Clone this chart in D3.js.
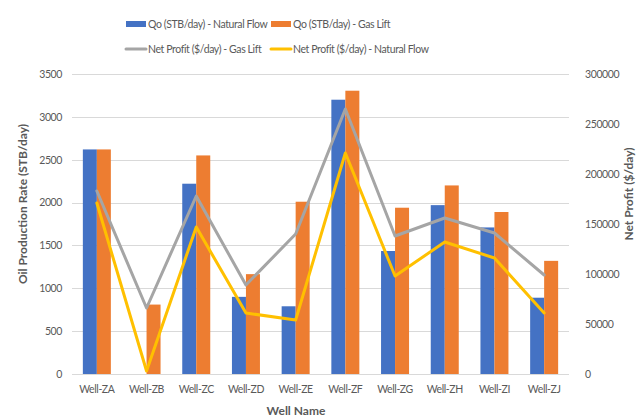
<!DOCTYPE html>
<html>
<head>
<meta charset="utf-8">
<script src="https://cdn.jsdelivr.net/npm/d3@7/dist/d3.min.js"></script>
<style>
  html, body { margin: 0; padding: 0; background: #fff; }
  svg { display: block; font-family: "Lato", sans-serif; }
  .lbl { font-size: 10.5px; letter-spacing: -0.4px; }
</style>
</head>
<body>
<svg id="chart" width="637" height="418"></svg>
<script>
// Well names along the category axis
const wells = ["Well-ZA", "Well-ZB", "Well-ZC", "Well-ZD", "Well-ZE", "Well-ZF", "Well-ZG", "Well-ZH", "Well-ZI", "Well-ZJ"];

// Oil production rate, STB/day
const qoNatural = [2620, 0, 2220, 900, 790, 3200, 1435, 1970, 1710, 890];
const qoGasLift = [2620, 810, 2550, 1165, 2010, 3305, 1940, 2200, 1890, 1320];

// Net profit, $/day
const profitGasLift = [183000, 66000, 178000, 89000, 140000, 265000, 138000, 156000, 141000, 99000];
const profitNatural = [171000, 3000, 147000, 61000, 54000, 221000, 98000, 132000, 116000, 61000];

// Axis ticks
const leftTicks = [0, 500, 1000, 1500, 2000, 2500, 3000, 3500];
const rightTicks = [0, 50000, 100000, 150000, 200000, 250000, 300000];

const colors = {
  natural: "#4472C4",
  gasLift: "#ED7D31",
  profitGas: "#A5A5A5",
  profitNat: "#FFC000",
  text: "#595959",
  grid: "#D9D9D9"
};

const svg = d3.select("#chart");
const plot = { left: 72, right: 569, top: 74, bottom: 374 };

const x = d3.scaleBand().domain(wells).range([plot.left, plot.right]).paddingInner(0).paddingOuter(0);
const yLeft = d3.scaleLinear().domain([0, 3500]).range([plot.bottom, plot.top]);
const yRight = d3.scaleLinear().domain([0, 300000]).range([plot.bottom, plot.top]);

const barW = 14;

// Gridlines from the left axis
svg.append("g")
  .selectAll("line")
  .data(leftTicks)
  .join("line")
  .attr("x1", plot.left).attr("x2", plot.right)
  .attr("y1", d => Math.round(yLeft(d)) + 0.5).attr("y2", d => Math.round(yLeft(d)) + 0.5)
  .attr("stroke", colors.grid).attr("stroke-width", 1);

function styleLabels(g) {
  g.select(".domain").remove();
  g.selectAll("text")
    .attr("class", "lbl")
    .attr("fill", colors.text)
    .attr("font-family", "Lato, sans-serif")
    .attr("font-size", null);
}

// Left axis labels
svg.append("g")
  .attr("transform", `translate(${plot.left - 10},0)`)
  .call(d3.axisLeft(yLeft).tickValues(leftTicks).tickSize(0).tickPadding(0).tickFormat(d3.format("d")))
  .call(styleLabels);

// Right axis labels
svg.append("g")
  .attr("transform", `translate(${plot.right + 16},0)`)
  .call(d3.axisRight(yRight).tickValues(rightTicks).tickSize(0).tickPadding(0).tickFormat(d3.format("d")))
  .call(styleLabels);

// Category axis labels
svg.append("g")
  .attr("transform", `translate(0,${plot.bottom + 12})`)
  .call(d3.axisBottom(x).tickSize(0).tickPadding(0))
  .call(styleLabels);

// Bars
const barGroup = svg.append("g");
barGroup.selectAll("rect.nat")
  .data(wells)
  .join("rect")
  .attr("class", "nat")
  .attr("x", d => x(d) + x.bandwidth() / 2 - barW)
  .attr("width", barW)
  .attr("y", (d, i) => yLeft(qoNatural[i]))
  .attr("height", (d, i) => yLeft(0) - yLeft(qoNatural[i]))
  .attr("fill", colors.natural);
barGroup.selectAll("rect.gas")
  .data(wells)
  .join("rect")
  .attr("class", "gas")
  .attr("x", d => x(d) + x.bandwidth() / 2)
  .attr("width", barW)
  .attr("y", (d, i) => yLeft(qoGasLift[i]))
  .attr("height", (d, i) => yLeft(0) - yLeft(qoGasLift[i]))
  .attr("fill", colors.gasLift);

// Category axis line
svg.append("line")
  .attr("x1", plot.left).attr("x2", plot.right)
  .attr("y1", plot.bottom + 0.5).attr("y2", plot.bottom + 0.5)
  .attr("stroke", colors.grid).attr("stroke-width", 1);

// Profit lines on the secondary axis
const line = d3.line()
  .x((d, i) => x(wells[i]) + x.bandwidth() / 2)
  .y(d => yRight(d));

svg.append("path")
  .datum(profitGasLift)
  .attr("d", line)
  .attr("fill", "none")
  .attr("stroke", colors.profitGas)
  .attr("stroke-width", 3)
  .attr("stroke-linejoin", "round")
  .attr("stroke-linecap", "round");

svg.append("path")
  .datum(profitNatural)
  .attr("d", line)
  .attr("fill", "none")
  .attr("stroke", colors.profitNat)
  .attr("stroke-width", 3)
  .attr("stroke-linejoin", "round")
  .attr("stroke-linecap", "round");

// Axis titles
svg.append("text")
  .attr("transform", `translate(27,204) rotate(-90)`)
  .attr("text-anchor", "middle")
  .attr("font-size", 12).attr("font-weight", "bold")
  .attr("fill", colors.text)
  .text("Oil Production Rate (STB/day)");

svg.append("text")
  .attr("transform", `translate(633,194) rotate(-90)`)
  .attr("text-anchor", "middle")
  .attr("font-size", 12).attr("font-weight", "bold")
  .attr("fill", colors.text)
  .text("Net Profit ($/day)");

svg.append("text")
  .attr("x", 296).attr("y", 415)
  .attr("text-anchor", "middle")
  .attr("font-size", 12).attr("font-weight", "bold")
  .attr("fill", colors.text)
  .text("Well Name");

// Legend
const legendItems = [
  { label: "Qo (STB/day) - Natural Flow", color: colors.natural, type: "rect", x: 126, y: 24 },
  { label: "Qo (STB/day) - Gas Lift", color: colors.gasLift, type: "rect", x: 271, y: 24 },
  { label: "Net Profit ($/day) - Gas Lift", color: colors.profitGas, type: "line", x: 126, y: 49 },
  { label: "Net Profit ($/day) - Natural Flow", color: colors.profitNat, type: "line", x: 271, y: 49 }
];
const legend = svg.append("g");
legendItems.forEach(item => {
  const g = legend.append("g").attr("transform", `translate(${item.x},${item.y})`);
  if (item.type === "rect") {
    g.append("rect").attr("x", 0).attr("y", -3).attr("width", 20).attr("height", 6).attr("fill", item.color);
  } else {
    g.append("line").attr("x1", 0).attr("x2", 20).attr("y1", 0).attr("y2", 0)
      .attr("stroke", item.color).attr("stroke-width", 3).attr("stroke-linecap", "round");
  }
  g.append("text")
    .attr("class", "lbl")
    .attr("x", 22).attr("y", 0).attr("dy", "0.35em")
    .attr("fill", colors.text)
    .text(item.label);
});
</script>
</body>
</html>
